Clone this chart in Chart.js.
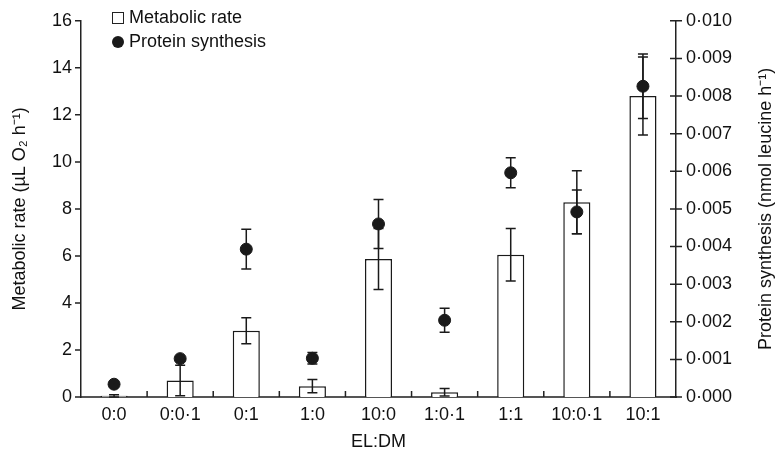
<!DOCTYPE html>
<html>
<head>
<meta charset="utf-8">
<script src="https://cdn.jsdelivr.net/npm/chart.js@4.4.0/dist/chart.umd.min.js"></script>
<style>
  html, body { margin: 0; padding: 0; background: #fff; }
  #wrap { position: relative; width: 775px; height: 454px; }
  #legend {
    position: absolute; left: 112px; top: 5px;
    font: 18px "Liberation Sans", Arial, sans-serif; color: #111; line-height: 24px;
  }
  #legend .sq { display: inline-block; width: 10px; height: 10px; border: 1.4px solid #222; margin-right: 5px; vertical-align: -1px; }
  #legend .dot { display: inline-block; width: 12px; height: 12px; border-radius: 50%; background: #1a1a1a; margin-right: 5px; vertical-align: -1px; }
</style>
</head>
<body>
<div id="wrap">
  <canvas id="chart" width="775" height="454"></canvas>
  <div id="legend">
    <div><span class="sq"></span>Metabolic rate</div>
    <div><span class="dot"></span>Protein synthesis</div>
  </div>
</div>
<script>
/* --------------- Data --------------------- */
const categories = ["0:0", "0:0·1", "0:1", "1:0", "10:0", "1:0·1", "1:1", "10:0·1", "10:1"];
// metabolic rate (µL O2 h-1), left axis
const metabolic = [0.05, 0.7, 2.82, 0.46, 5.87, 0.2, 6.05, 8.28, 12.8];
const metabolicErr = [0.05, 0.65, 0.55, 0.28, 1.3, 0.16, 1.12, 1.34, 1.66];
// protein synthesis (nmol leucine h-1), right axis
const protein = [0.00034, 0.00102, 0.00393, 0.00103, 0.0046, 0.00204, 0.00596, 0.00492, 0.00826];
const proteinErr = [0.00004, 0.00005, 0.00053, 0.00015, 0.00065, 0.00032, 0.0004, 0.00058, 0.00086];

const FONT = '"Liberation Sans", Arial, sans-serif';
Chart.defaults.font.family = FONT;
Chart.defaults.color = "#111";

/* --------------- Error bars --------------------- */
const errorBars = {
  id: "errorBars",
  afterDatasetsDraw(chart) {
    const ctx = chart.ctx;
    const x = chart.scales.x, y = chart.scales.y, y1 = chart.scales.y1;
    ctx.save();
    ctx.strokeStyle = "#1a1a1a";
    ctx.lineWidth = 1.5;
    const draw = (px, top, bottom) => {
      ctx.beginPath();
      ctx.moveTo(px, top); ctx.lineTo(px, bottom);
      ctx.moveTo(px - 5, top); ctx.lineTo(px + 5, top);
      ctx.moveTo(px - 5, bottom); ctx.lineTo(px + 5, bottom);
      ctx.stroke();
    };
    categories.forEach((c, i) => {
      const px = x.getPixelForValue(i);
      draw(px, y.getPixelForValue(metabolic[i] + metabolicErr[i]), y.getPixelForValue(metabolic[i] - metabolicErr[i]));
      draw(px, y1.getPixelForValue(protein[i] + proteinErr[i]), y1.getPixelForValue(protein[i] - proteinErr[i]));
    });
    ctx.restore();
  },
};

/* --------------- Axis ticks + right title --------------------- */
const axisTicks = {
  id: "axisTicks",
  afterDraw(chart) {
    const ctx = chart.ctx;
    const x = chart.scales.x, y = chart.scales.y, y1 = chart.scales.y1;
    const area = chart.chartArea;
    ctx.save();
    ctx.strokeStyle = "#222";
    ctx.lineWidth = 1.5;
    ctx.beginPath();
    y.ticks.forEach((t) => {
      const py = y.getPixelForValue(t.value);
      ctx.moveTo(area.left - 6, py); ctx.lineTo(area.left, py);
    });
    y1.ticks.forEach((t) => {
      const py = y1.getPixelForValue(t.value);
      ctx.moveTo(area.right - 6, py); ctx.lineTo(area.right + 6, py);
    });
    for (let i = 0; i < categories.length - 1; i++) {
      const px = (x.getPixelForValue(i) + x.getPixelForValue(i + 1)) / 2;
      ctx.moveTo(px, area.bottom); ctx.lineTo(px, area.bottom - 6);
    }
    ctx.stroke();

    ctx.translate(766, (area.top + area.bottom) / 2);
    ctx.rotate(-Math.PI / 2);
    ctx.font = "18px " + FONT;
    ctx.fillStyle = "#111";
    ctx.textAlign = "center";
    ctx.textBaseline = "middle";
    ctx.fillText("Protein synthesis (nmol leucine h⁻¹)", 0, 0);
    ctx.restore();
  },
};

/* --------------- Chart --------------------- */
new Chart(document.getElementById("chart"), {
  type: "bar",
  plugins: [errorBars, axisTicks],
  data: {
    labels: categories,
    datasets: [
      {
        type: "line",
        label: "Protein synthesis",
        data: protein,
        yAxisID: "y1",
        showLine: false,
        pointRadius: 6,
        pointBackgroundColor: "#1a1a1a",
        pointBorderColor: "#1a1a1a",
        order: 0,
      },
      {
        label: "Metabolic rate",
        data: metabolic,
        yAxisID: "y",
        backgroundColor: "#fff",
        borderColor: "#1a1a1a",
        borderWidth: 1.5,
        barPercentage: 0.41,
        categoryPercentage: 1,
        order: 1,
      },
    ],
  },
  options: {
    responsive: false,
    animation: false,
    layout: { padding: { top: 16, left: 0, right: 0, bottom: 0 } },
    plugins: { legend: { display: false }, tooltip: { enabled: false } },
    scales: {
      x: {
        offset: true,
        grid: { display: false, drawTicks: false },
        border: { display: true, color: "#555", width: 2 },
        ticks: { font: { size: 18 }, padding: 7, maxRotation: 0 },
        title: { display: true, text: "EL:DM", font: { size: 18 }, padding: { top: 4, bottom: 1 } },
        afterFit(s) { s.height = 57; },
      },
      y: {
        position: "left",
        min: 0,
        max: 16,
        grid: { display: false, drawTicks: false },
        border: { display: true, color: "#222", width: 1.5 },
        ticks: { stepSize: 2, font: { size: 18 }, padding: 9 },
        title: { display: true, text: "Metabolic rate (µL O₂ h⁻¹)", font: { size: 18 }, padding: { top: 9, bottom: 0 } },
        afterFit(s) { s.width = 81; },
      },
      y1: {
        position: "right",
        min: 0,
        max: 0.01,
        grid: { display: false, drawTicks: false },
        border: { display: true, color: "#222", width: 1.5 },
        ticks: {
          stepSize: 0.001,
          font: { size: 18 },
          padding: 10,
          callback: (v) => v.toFixed(3).replace(".", "·"),
        },
        afterFit(s) { s.width = 99; },
      },
    },
  },
});
</script>
</body>
</html>
